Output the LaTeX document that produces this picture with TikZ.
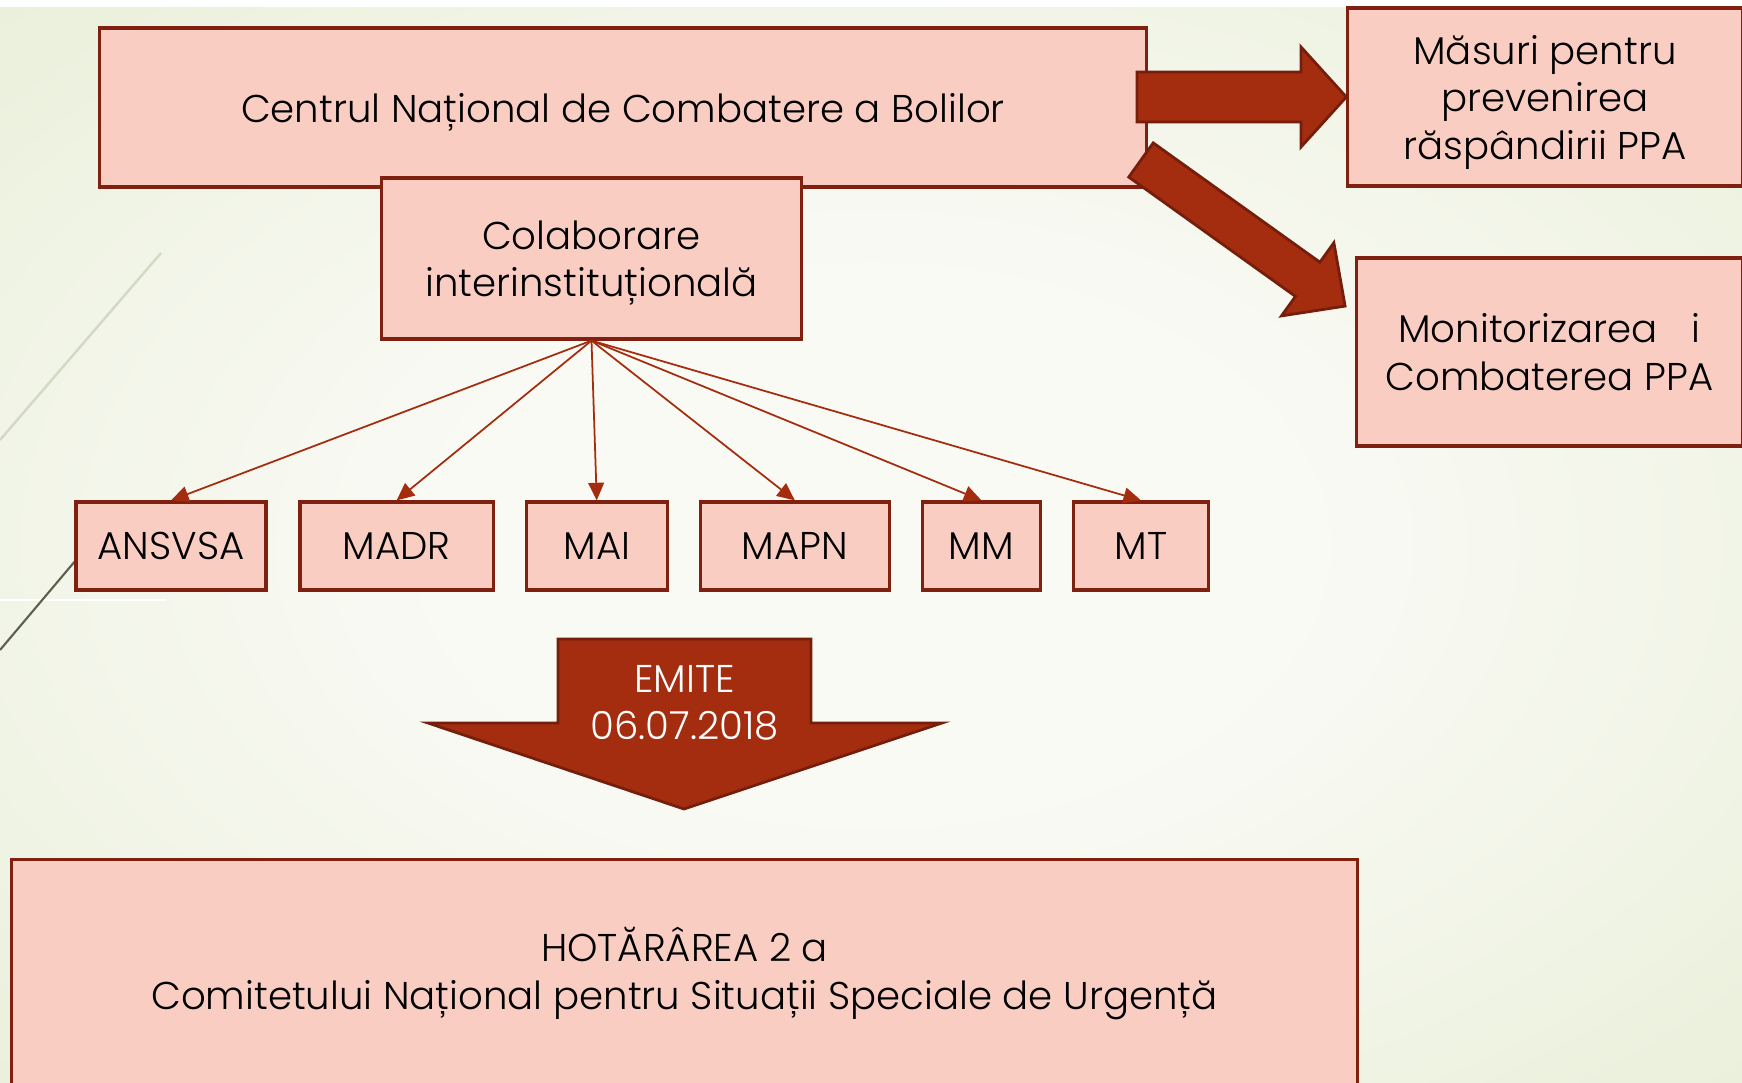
\documentclass[tikz,border=0pt]{standalone}
\usepackage{fontspec}
\setmainfont{Poppins}[UprightFont=* Light]
\usetikzlibrary{positioning,arrows.meta}
\definecolor{boxfill}{RGB}{249,205,194}
\definecolor{boxline}{RGB}{128,32,16}
\definecolor{arrowfill}{RGB}{164,45,15}
\definecolor{arrowline}{RGB}{118,30,12}
\definecolor{bgwhite}{RGB}{250,250,245}
\definecolor{bggreen}{RGB}{224,234,203}
\definecolor{decoline}{RGB}{212,217,198}
\definecolor{darkline}{RGB}{95,95,75}
\pgfdeclareradialshading{slidebg}{\pgfpoint{0bp}{0bp}}{color(0bp)=(bgwhite); color(12bp)=(bgwhite); color(50bp)=(bggreen)}
\tikzset{
  box/.style={draw=boxline, fill=boxfill, line width=0.9pt, inner sep=0pt, align=center,
    font=\fontsize{11}{13.5}\selectfont},
  flat/.style={text depth=0pt},
  leaf/.style={box, minimum height=0.88cm},
  fan/.style={draw=arrowfill, line width=0.5pt, -{Triangle[length=5pt,width=4.5pt]}},
  bigarrow/.style={fill=arrowfill, draw=arrowline, line width=0.8pt, line join=miter}
}
\begin{document}
\begin{tikzpicture}[x=0.01cm, y=-0.01cm, on grid]
  \clip (0,0) rectangle (1742,1083);
  \fill[white] (0,0) rectangle (1742,1083);
  \shade[shading=slidebg] (0,8) rectangle (1742,1083);
  % template lines on the left
  \draw[decoline, line width=0.7pt] (0,440) -- (161,253);
  \draw[white, line width=0.8pt] (0,600) -- (166,600);
  \draw[darkline, line width=0.6pt] (0,650) -- (76,560);

  \node[box, flat, minimum width=10.46cm, minimum height=1.59cm] (cncb) at (623,107.5)
    {Centrul Național de Combatere a Bolilor};
  \node[box, flat, minimum width=4.19cm, minimum height=1.61cm] (colab) at (591.5,258.5)
    {Colaborare\\interinstituțională};
  \node[box, flat, minimum width=3.94cm, minimum height=1.78cm] (masuri) at (1545,97)
    {Măsuri pentru\\prevenirea\\răspândirii PPA};
  \node[box, minimum width=3.85cm, minimum height=1.88cm] (monitor) at (1549.5,352)
    {Monitorizarea\hspace{0.34cm}i\\Combaterea PPA};

  % institutii
  \node[leaf, minimum width=1.90cm] (ansvsa) at (171,546) {ANSVSA};
  \node[leaf, minimum width=1.93cm] (madr) [right=2.255cm of ansvsa] {MADR};
  \node[leaf, minimum width=1.41cm] (mai) [right=2.0cm of madr] {MAI};
  \node[leaf, minimum width=1.89cm] (mapn) [right=1.98cm of mai] {MAPN};
  \node[leaf, minimum width=1.18cm] (mm) [right=1.865cm of mapn] {MM};
  \node[leaf, minimum width=1.35cm] (mt) [right=1.595cm of mm] {MT};

  \path
  (colab.south) edge[fan] (ansvsa.north)
  (colab.south) edge[fan] (madr.north)
  (colab.south) edge[fan] (mai.north)
  (colab.south) edge[fan] (mapn.north)
  (colab.south) edge[fan] (mm.north)
  (colab.south) edge[fan] (mt.north);

  % sageti mari
  \draw[bigarrow] (1137,72) -- (1301,72) -- (1301,47) -- (masuri.west)
    -- (1301,147) -- (1301,122) -- (1137,122) -- cycle;
  \begin{scope}[shift={(1141,160)}, rotate=-35.6]
    \draw[bigarrow] (0,-21) -- (205,-21) -- (205,-45) -- (251,0)
      -- (205,45) -- (205,21) -- (0,21) -- cycle;
  \end{scope}
  \draw[bigarrow] (558,639) -- (811,639) -- (811,723) -- (942,723)
    -- (684,809) -- (428,723) -- (558,723) -- cycle;
  \node[text=white, align=center, font=\fontsize{11}{13.5}\selectfont] (emite) at (684.5,703)
    {EMITE\\06.07.2018};

  \node[box, minimum width=13.45cm, minimum height=2.28cm] (hot) at (684.5,973.5)
    {HOTĂRÂREA 2 a\\Comitetului Național pentru Situații Speciale de Urgență};
\end{tikzpicture}
\end{document}
